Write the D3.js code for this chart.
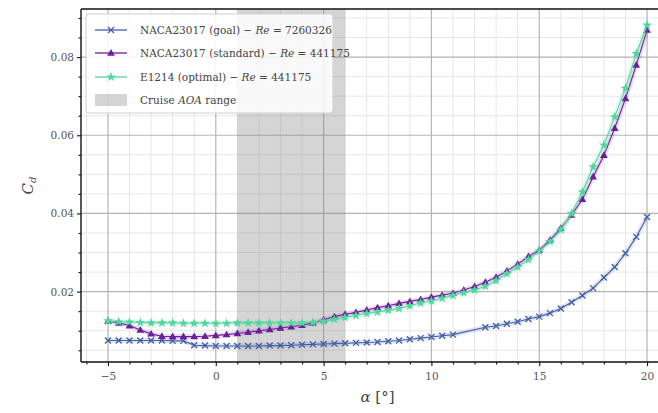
<!DOCTYPE html>
<html><head><meta charset="utf-8">
<script src="https://cdn.jsdelivr.net/npm/d3@7"></script>
<style>body{margin:0;background:#fff;} svg{display:block;}</style>
</head><body><svg id="c" width="658" height="413"></svg>
<script>
const alpha = [-5,-4.5,-4,-3.5,-3,-2.5,-2,-1.5,-1,-0.5,
  0,0.5,1,1.5,2,2.5,3,3.5,4,4.5,
  5,5.5,6,6.5,7,7.5,8,8.5,9,9.5,
  10,10.5,11,11.5,12,12.5,13,13.5,14,14.5,
  15,15.5,16,16.5,17,17.5,18,18.5,19,19.5,20];
const cdGoal = [.0075,.0075,.0075,.0075,.0075,.0075,.0074,.0074,.0063,.0062,
  .0061,.0061,.0061,.0061,.0061,.0062,.0062,.0063,.0064,.0065,
  .0066,.0067,.0068,.0069,.0070,.0071,.0073,.0075,.0078,.0081,
  .0084,.0087,.0090,null,null,.0109,.0112,.0118,.0123,.0130,
  .0136,.0145,.0157,.0173,.0190,.0209,.0236,.0263,.0298,.0340,.0391];
const cdStandard = [.0125,.0120,.0113,.0102,.0092,.0086,.0085,.0085,.0085,.0086,
  .0088,.0090,.0093,.0096,.0100,.0103,.0107,.0110,.0114,.0120,
  .0128,.0136,.0142,.0147,.0153,.0159,.0164,.0170,.0175,.0180,
  .0186,.0191,.0196,.0204,.0213,.0224,.0237,.0253,.0270,.0290,
  .0306,.0332,.0362,.0396,.0436,.0494,.0549,.0618,.0694,.0780,.0869];
const cdOptimal = [.0125,.0123,.0122,.0121,.0120,.0120,.0120,.0119,.0119,.0119,
  .0119,.0119,.0120,.0120,.0120,.0120,.0120,.0120,.0120,.0121,
  .0124,.0129,.0134,.0139,.0144,.0148,.0152,.0157,.0164,.0171,
  .0176,.0183,.0190,.0197,.0204,.0214,.0228,.0246,.0263,.0282,
  .0304,.0328,.0358,.0400,.0455,.0519,.0575,.0647,.0720,.0809,.0882];
const cruiseRange = [1, 6];
const xTicks = [-5,0,5,10,15,20];
const yTicks = [0.02,0.04,0.06,0.08];
const seriesNames = ["NACA23017 (goal)","NACA23017 (standard)","E1214 (optimal)"];
const reynolds = ["7260326","441175","441175"];
const colors = ["#405fa6","#6d1d9c","#50d79d"];
const markers = ["x","tri","star"];

const svg = d3.select("#c");
const L=81, R=674, T=9, B=362;
const x = d3.scaleLinear().domain([-6.25,21.25]).range([L,R]);
const y = d3.scaleLinear().domain([0.002,0.0923]).range([B,T]);
const serif = "'DejaVu Serif', serif";

svg.append("defs").append("clipPath").attr("id","clip")
  .append("rect").attr("x",L).attr("y",T).attr("width",R-L).attr("height",B-T);
const plot = svg.append("g").attr("clip-path","url(#clip)");

// minor grid
const xMinor = d3.range(-6,22,1).filter(v=>v%5!==0);
const yMinor = d3.range(0.005,0.0925,0.005).filter(v=>Math.abs(v/0.02-Math.round(v/0.02))>1e-6);
plot.selectAll(".gxm").data(xMinor).join("line").attr("x1",d=>x(d)).attr("x2",d=>x(d)).attr("y1",T).attr("y2",B)
  .attr("stroke","#e6e6e6").attr("stroke-width",1);
plot.selectAll(".gym").data(yMinor).join("line").attr("y1",d=>y(d)).attr("y2",d=>y(d)).attr("x1",L).attr("x2",R)
  .attr("stroke","#e6e6e6").attr("stroke-width",1);
plot.selectAll(".gx").data(xTicks).join("line").attr("x1",d=>x(d)).attr("x2",d=>x(d)).attr("y1",T).attr("y2",B)
  .attr("stroke","#b4b4b4").attr("stroke-width",1.2);
plot.selectAll(".gy").data(yTicks).join("line").attr("y1",d=>y(d)).attr("y2",d=>y(d)).attr("x1",L).attr("x2",R)
  .attr("stroke","#b4b4b4").attr("stroke-width",1.2);

// cruise span
plot.append("rect").attr("x",x(cruiseRange[0])).attr("width",x(cruiseRange[1])-x(cruiseRange[0]))
  .attr("y",T).attr("height",B-T).attr("fill","#808080").attr("fill-opacity",0.33);

function marker(g, type, color){
  if(type==="x"){
    const s=3;
    g.append("path").attr("d",`M${-s},${-s}L${s},${s}M${-s},${s}L${s},${-s}`).attr("stroke",color).attr("stroke-width",1.3).attr("fill","none");
  } else if(type==="tri"){
    g.append("path").attr("d",d3.symbol(d3.symbolTriangle,26)()).attr("fill",color).attr("transform","translate(0,0.5)");
  } else {
    g.append("path").attr("d",d3.symbol(d3.symbolStar,30)()).attr("fill",color);
  }
}

const allSeries = [cdGoal, cdStandard, cdOptimal];
allSeries.forEach((vals,i)=>{
  const pts = alpha.map((a,j)=>({a, v:vals[j]})).filter(p=>p.v!==null);
  const line = d3.line().x(p=>x(p.a)).y(p=>y(p.v));
  // soft halo
  plot.append("path").datum(pts).attr("d",line).attr("fill","none").attr("stroke",colors[i]).attr("stroke-opacity",0.15).attr("stroke-width",5);
  plot.append("path").datum(pts).attr("d",line).attr("fill","none").attr("stroke",colors[i]).attr("stroke-width",1.1);
  pts.forEach(p=>{
    const g = plot.append("g").attr("transform",`translate(${x(p.a)},${y(p.v)})`);
    marker(g, markers[i], colors[i]);
  });
});

// spines
svg.append("line").attr("x1",L).attr("x2",L).attr("y1",T).attr("y2",B).attr("stroke","#111").attr("stroke-width",1.4);
svg.append("line").attr("x1",L).attr("x2",R).attr("y1",B).attr("y2",B).attr("stroke","#111").attr("stroke-width",1.4);
svg.append("line").attr("x1",L).attr("x2",R).attr("y1",T).attr("y2",T).attr("stroke","#111").attr("stroke-width",1.4);
svg.append("line").attr("x1",R).attr("x2",R).attr("y1",T).attr("y2",B).attr("stroke","#111").attr("stroke-width",1.4);

// ticks
const xAxis = svg.append("g").attr("transform",`translate(0,${B})`)
  .call(d3.axisBottom(x).tickValues(xTicks).tickSize(4).tickFormat(d=>d<0?"\u2212"+Math.abs(d):d));
const xMinorAxis = svg.append("g").attr("transform",`translate(0,${B})`)
  .call(d3.axisBottom(x).tickValues(xMinor).tickSize(2.5).tickFormat(""));
const yAxis = svg.append("g").attr("transform",`translate(${L},0)`)
  .call(d3.axisLeft(y).tickValues(yTicks).tickSize(4).tickFormat(d3.format(".2f")));
const yMinorAxis = svg.append("g").attr("transform",`translate(${L},0)`)
  .call(d3.axisLeft(y).tickValues(yMinor).tickSize(2.5).tickFormat(""));
[xAxis,xMinorAxis,yAxis,yMinorAxis].forEach(a=>{
  a.select(".domain").remove();
  a.selectAll("line").attr("stroke","#111").attr("stroke-width",1.1);
  a.selectAll("text").attr("font-family",serif).attr("font-size",10.5).attr("fill","#555");
});
xAxis.selectAll("text").attr("dy","1.05em");

// axis labels
svg.append("text").attr("x",(L+R)/2).attr("y",402).attr("text-anchor","middle")
  .attr("font-family",serif).attr("font-size",15).attr("fill","#444")
  .html('<tspan font-style="italic">α</tspan> [°]');
svg.append("text").attr("transform",`translate(33,${(T+B)/2}) rotate(-90)`).attr("text-anchor","middle")
  .attr("font-family",serif).attr("font-size",15).attr("fill","#444")
  .html('<tspan font-style="italic">C</tspan><tspan font-size="10" dy="3" font-style="italic">d</tspan>');

// legend
const lg = svg.append("g");
lg.append("rect").attr("x",86).attr("y",14).attr("width",247).attr("height",99).attr("rx",3)
  .attr("fill","#fff").attr("fill-opacity",0.85).attr("stroke","#d0d0d0");
const rowY = [30,53,77,100];
seriesNames.forEach((n,i)=>{
  lg.append("line").attr("x1",95).attr("x2",127).attr("y1",rowY[i]).attr("y2",rowY[i]).attr("stroke",colors[i]).attr("stroke-width",1.3);
  const g = lg.append("g").attr("transform",`translate(111,${rowY[i]})`);
  marker(g, markers[i], colors[i]);
  lg.append("text").attr("x",140).attr("y",rowY[i]+4).attr("font-family",serif).attr("font-size",10.5).attr("fill","#444")
    .html(`${n} \u2212 <tspan font-style="italic">Re</tspan> = ${reynolds[i]}`);
});
lg.append("rect").attr("x",95).attr("y",rowY[3]-6).attr("width",32).attr("height",12).attr("fill","#808080").attr("fill-opacity",0.33);
lg.append("text").attr("x",140).attr("y",rowY[3]+4).attr("font-family",serif).attr("font-size",10.5).attr("fill","#444")
  .html('Cruise <tspan font-style="italic">AOA</tspan> range');
</script></body></html>
